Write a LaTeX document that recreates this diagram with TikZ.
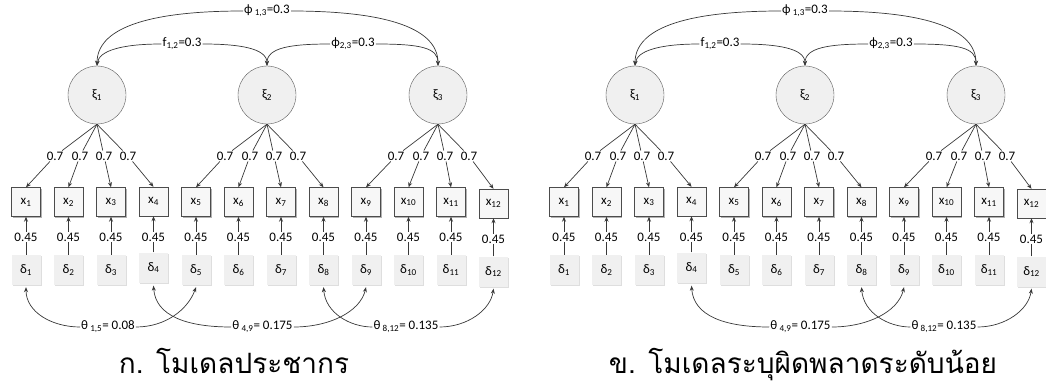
\documentclass[tikz,border=0pt]{standalone}
\usepackage{fontspec}
\setmainfont{Carlito}
\newfontfamily\thaifont[Script=Thai]{Loma}
\usetikzlibrary{arrows.meta,shadows}
\newcommand\mysub[1]{\textsubscript{#1}}
\tikzset{
  ln/.style={draw=black!78, line width=0.7pt},
  tip/.style={-{Stealth[length=5pt,width=4pt]}},
  tipb/.style={{Stealth[length=5pt,width=4pt]}-},
  latent/.style={circle, draw=black!65, fill=black!6, minimum size=58pt, inner sep=0pt, font=\fontsize{13}{15}\selectfont},
  obs/.style={rectangle, draw=black!70, fill=black!3, minimum width=29pt, minimum height=29pt, inner sep=0pt,
    drop shadow={shadow xshift=1pt, shadow yshift=-1pt, fill=black!30, opacity=1}, font=\fontsize{13}{15}\selectfont},
  err/.style={rectangle, fill=black!6, minimum width=29pt, minimum height=30pt, inner sep=0pt,
    drop shadow={shadow xshift=1.2pt, shadow yshift=-1.2pt, fill=black!13, opacity=1}, font=\fontsize{13}{15}\selectfont},
  lab/.style={inner sep=1pt, font=\fontsize{13}{15}\selectfont},
  captext/.style={font=\thaifont\fontsize{28}{32}\selectfont, anchor=base},
}
\newcommand\semblock[4]{%
\begin{scope}[xshift=#2pt]
  \node[latent] (#1xi1) at (97,294) {ξ\mysub{1}};
  \node[latent] (#1xi2) at (267,294) {ξ\mysub{2}};
  \node[latent] (#1xi3) at (438,294) {ξ\mysub{3}};
  \foreach \i/\yb/\ye/\yd in {1/187/152/119, 2/187/152/119, 3/187/152/119, 4/187.5/152/121.5,
      5/187/152/119, 6/187/152/119, 7/187/152/119, 8/187/152/119,
      9/187/152/119, 10/187/152/119, 11/187/152/119, 12/185.5/150/117.5}{
    \pgfmathsetmacro\xx{26+42.5*(\i-1)}
    \node[obs] (#1x\i) at (\xx,\yb) {x\mysub{\i}};
    \node[err] (#1d\i) at (\xx,\yd) {δ\mysub{\i}};
    \node[lab] (#1e\i) at (\xx,\ye) {0.45};
    \draw[ln,tip] (#1d\i) -- (#1e\i) -- (#1x\i);
  }
  \foreach \g/\cx in {1/97,2/267,3/438}{
    \foreach \j/\off in {1/-42,2/-17,3/7,4/31}{
      \pgfmathtruncatemacro\i{4*(\g-1)+\j}
      \pgfmathsetmacro\lx{\cx+\off}
      \node[lab] (#1l\i) at (\lx,233) {0.7};
      \draw[ln,tip] (#1xi\g.south) -- (#1l\i) -- (#1x\i.north);
    }
  }
  \node[lab] (#1p13) at (267,378) {ϕ\,\mysub{1,3}=0.3};
  \node[lab] (#1f12) at (182,345) {f\mysub{1,2}=0.3};
  \node[lab] (#1p23) at (353,345) {ϕ\mysub{2,3}=0.3};
  \draw[ln,tipb] (#1xi1.north) .. controls +(0,36) and +(-100,0) .. (#1p13.west);
  \draw[ln,tip] (#1p13.east) .. controls +(100,0) and +(0,36) .. (#1xi3.north);
  \draw[ln,tipb] (#1xi1.north) .. controls +(2,15) and +(-40,0) .. (#1f12.west);
  \draw[ln,tip] (#1f12.east) .. controls +(35,0) and +(0,18) .. (#1xi2.north);
  \draw[ln,tipb] (#1xi2.north) .. controls +(0,18) and +(-40,0) .. (#1p23.west);
  \draw[ln,tip] (#1p23.east) .. controls +(45,0) and +(0,18) .. (#1xi3.north);
  \node[lab] (#1t49) at (262.5,62) {θ\,\mysub{4,9}= 0.175};
  \node[lab] (#1t812) at (406,62) {θ\,\mysub{8,12}= 0.135};
  \draw[ln,tipb] ([yshift=-3pt]#1d4.south) .. controls +(2,-30) and +(-45,0) .. (#1t49.west);
  \draw[ln,tip] (#1t49.east) .. controls +(35,0) and +(-6,-25) .. ([yshift=-2pt]#1d9.south);
  \draw[ln,tipb] ([yshift=-2pt]#1d8.south) .. controls +(2,-26) and +(-22,0) .. (#1t812.west);
  \draw[ln,tip] (#1t812.east) .. controls +(28,0) and +(-3,-21) .. ([yshift=-2pt]#1d12.south);
  \node[captext] (#1cap) at (#3,16) {#4};
\end{scope}}
\begin{document}
\begin{tikzpicture}[x=1pt,y=1pt]
  \useasboundingbox (0,0) rectangle (1046,389);
  \semblock{L}{0}{234}{ก. โมเดลประชากร}
  \semblock{R}{538}{265}{ข. โมเดลระบุผิดพลาดระดับน้อย}
  \node[lab] (Lt15) at (108,62) {θ\,\mysub{1,5}= 0.08};
  \draw[ln,tipb] ([yshift=-2pt]Ld1.south) .. controls +(0,-25) and +(-28,0) .. (Lt15.west);
  \draw[ln,tip] (Lt15.east) .. controls +(30,0) and +(-8,-22) .. ([yshift=-2pt]Ld5.south);
\end{tikzpicture}
\end{document}
